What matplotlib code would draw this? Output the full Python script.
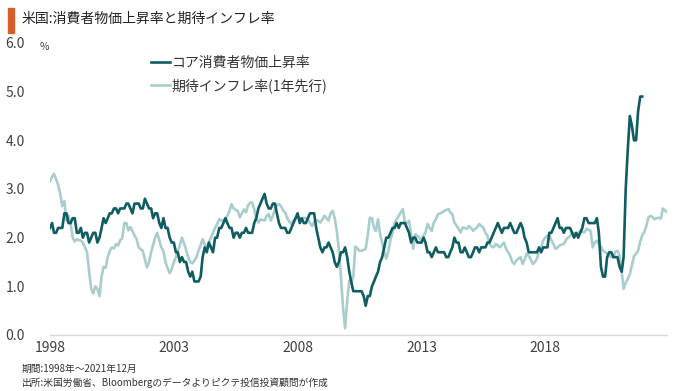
import matplotlib
matplotlib.use("Agg")
import matplotlib.pyplot as plt
import matplotlib.patches as mpatches
import pandas as pd

plt.rcParams['font.family'] = ['Noto Sans CJK JP', 'DejaVu Sans']

# コア消費者物価上昇率 (YoY %, monthly, 1998-01 .. 2021-12)
core_cpi = [
    2.2, 2.3, 2.1, 2.1, 2.2, 2.2, 2.2, 2.5, 2.5, 2.3, 2.3, 2.4,   # 1998
    2.4, 2.1, 2.1, 2.2, 2.0, 2.1, 2.1, 1.9, 2.0, 2.1, 2.1, 1.9,   # 1999
    2.0, 2.2, 2.4, 2.3, 2.4, 2.5, 2.5, 2.6, 2.6, 2.5, 2.6, 2.6,   # 2000
    2.6, 2.7, 2.7, 2.6, 2.5, 2.7, 2.7, 2.7, 2.6, 2.6, 2.8, 2.7,   # 2001
    2.6, 2.6, 2.4, 2.5, 2.5, 2.3, 2.2, 2.4, 2.2, 2.2, 2.0, 1.9,   # 2002
    1.9, 1.7, 1.7, 1.5, 1.6, 1.5, 1.5, 1.3, 1.2, 1.3, 1.1, 1.1,   # 2003
    1.1, 1.2, 1.6, 1.8, 1.7, 1.9, 1.8, 1.7, 2.0, 2.0, 2.2, 2.2,   # 2004
    2.3, 2.4, 2.3, 2.2, 2.2, 2.0, 2.1, 2.1, 2.0, 2.1, 2.1, 2.2,   # 2005
    2.1, 2.1, 2.1, 2.3, 2.4, 2.6, 2.7, 2.8, 2.9, 2.7, 2.6, 2.6,   # 2006
    2.7, 2.7, 2.5, 2.3, 2.2, 2.2, 2.2, 2.1, 2.1, 2.2, 2.3, 2.4,   # 2007
    2.5, 2.3, 2.4, 2.3, 2.3, 2.4, 2.5, 2.5, 2.5, 2.2, 2.0, 1.8,   # 2008
    1.7, 1.8, 1.8, 1.9, 1.8, 1.7, 1.5, 1.4, 1.5, 1.7, 1.7, 1.8,   # 2009
    1.6, 1.3, 1.1, 0.9, 0.9, 0.9, 0.9, 0.9, 0.8, 0.6, 0.8, 0.8,   # 2010
    1.0, 1.1, 1.2, 1.3, 1.5, 1.6, 1.8, 2.0, 2.0, 2.1, 2.2, 2.2,   # 2011
    2.3, 2.2, 2.3, 2.3, 2.3, 2.2, 2.1, 1.9, 2.0, 2.0, 1.9, 1.9,   # 2012
    1.9, 2.0, 1.9, 1.7, 1.7, 1.6, 1.7, 1.8, 1.7, 1.7, 1.7, 1.7,   # 2013
    1.6, 1.6, 1.7, 1.8, 2.0, 1.9, 1.9, 1.7, 1.7, 1.8, 1.7, 1.6,   # 2014
    1.6, 1.7, 1.8, 1.8, 1.7, 1.8, 1.8, 1.8, 1.9, 1.9, 2.0, 2.1,   # 2015
    2.2, 2.3, 2.2, 2.1, 2.2, 2.2, 2.2, 2.3, 2.2, 2.1, 2.1, 2.2,   # 2016
    2.3, 2.2, 2.0, 1.9, 1.7, 1.7, 1.7, 1.7, 1.7, 1.8, 1.7, 1.8,   # 2017
    1.8, 1.8, 2.1, 2.1, 2.2, 2.3, 2.4, 2.2, 2.2, 2.1, 2.2, 2.2,   # 2018
    2.2, 2.1, 2.0, 2.1, 2.0, 2.1, 2.2, 2.4, 2.4, 2.3, 2.3, 2.3,   # 2019
    2.3, 2.4, 2.1, 1.4, 1.2, 1.2, 1.6, 1.7, 1.7, 1.6, 1.6, 1.6,   # 2020
    1.4, 1.3, 1.6, 3.0, 3.8, 4.5, 4.3, 4.0, 4.0, 4.6, 4.9, 4.9,   # 2021
]

# 期待インフレ率（1年先行）(%, monthly, plotted 1998-01 .. 2022-12)
expected_infl = [
    3.16, 3.25, 3.31, 3.20, 3.08, 2.90, 2.65, 2.75, 2.35, 2.45, 2.30, 2.00,  # 1998
    1.92, 1.97, 1.95, 1.94, 1.90, 1.80, 1.70, 1.30, 0.95, 0.85, 1.00, 0.95,  # 1999
    0.80, 1.20, 1.40, 1.38, 1.60, 1.73, 1.80, 1.78, 1.87, 1.84, 1.95, 1.98,  # 2000
    2.30, 2.30, 2.15, 2.22, 2.13, 2.05, 1.97, 1.80, 1.76, 1.73, 1.55, 1.39,  # 2001
    1.50, 1.70, 1.85, 2.00, 2.10, 1.95, 1.80, 1.72, 1.50, 1.38, 1.27, 1.36,  # 2002
    1.50, 1.60, 1.72, 1.85, 2.00, 1.88, 1.75, 1.60, 1.50, 1.47, 1.53, 1.60,  # 2003
    1.73, 1.85, 1.97, 1.85, 1.82, 1.90, 2.00, 2.10, 2.20, 2.28, 2.38, 2.35,  # 2004
    2.36, 2.38, 2.45, 2.55, 2.69, 2.60, 2.57, 2.55, 2.42, 2.50, 2.58, 2.52,  # 2005
    2.67, 2.72, 2.72, 2.59, 2.40, 2.31, 2.38, 2.36, 2.35, 2.45, 2.48, 2.35,  # 2006
    2.45, 2.59, 2.66, 2.69, 2.65, 2.56, 2.52, 2.40, 2.33, 2.28, 2.36, 2.38,  # 2007
    2.45, 2.40, 2.38, 2.41, 2.40, 2.38, 2.30, 2.24, 2.33, 2.35, 2.35, 2.31,  # 2008
    2.38, 2.45, 2.40, 2.35, 2.50, 2.55, 2.40, 2.14, 1.75, 1.20, 0.55, 0.14,  # 2009
    0.70, 1.12, 1.08, 1.19, 1.82, 1.78, 1.73, 1.73, 1.75, 1.77, 2.05, 2.41,  # 2010
    2.40, 2.20, 2.14, 2.38, 2.07, 1.90, 1.70, 1.57, 1.73, 1.95, 2.10, 2.31,  # 2011
    2.38, 2.45, 2.52, 2.59, 2.31, 2.30, 2.35, 2.07, 1.77, 2.07, 2.04, 2.00,  # 2012
    1.94, 2.05, 2.11, 2.28, 2.20, 2.14, 2.31, 2.38, 2.48, 2.50, 2.52, 2.55,  # 2013
    2.57, 2.59, 2.52, 2.48, 2.31, 2.25, 2.18, 2.11, 2.21, 2.20, 2.18, 2.24,  # 2014
    2.20, 2.14, 2.18, 2.21, 2.28, 2.24, 2.21, 2.10, 2.04, 1.87, 1.82, 1.80,  # 2015
    1.87, 1.84, 1.80, 1.85, 1.90, 1.77, 1.70, 1.63, 1.50, 1.46, 1.53, 1.57,  # 2016
    1.60, 1.46, 1.55, 1.67, 1.63, 1.55, 1.46, 1.50, 1.57, 1.75, 1.80, 1.94,  # 2017
    2.00, 2.04, 2.04, 1.95, 1.87, 1.77, 1.80, 1.84, 1.86, 1.87, 1.95, 2.00,  # 2018
    2.03, 2.11, 2.09, 2.07, 2.10, 2.14, 2.12, 2.11, 2.18, 2.16, 2.14, 1.80,  # 2019
    1.90, 1.94, 1.87, 1.82, 1.73, 1.70, 1.68, 1.63, 1.60, 1.60, 1.72, 1.73,  # 2020
    1.63, 1.30, 0.95, 1.07, 1.15, 1.25, 1.43, 1.62, 1.67, 1.73, 1.92, 2.05,  # 2021
    2.12, 2.25, 2.41, 2.45, 2.42, 2.38, 2.40, 2.41, 2.39, 2.60, 2.56, 2.52,  # 2022
]

core_label = "コア消費者物価上昇率"
exp_label = "期待インフレ率(1年先行)"
title = "米国:消費者物価上昇率と期待インフレ率"
note1 = "期間:1998年～2021年12月"
note2 = "出所:米国労働省、Bloombergのデータよりピクテ投信投資顧問が作成"
y_ticks = [0.0, 1.0, 2.0, 3.0, 4.0, 5.0, 6.0]
x_tick_years = [1998, 2003, 2008, 2013, 2018]

core_dates = pd.date_range("1998-01-01", periods=len(core_cpi), freq="MS")
exp_dates = pd.date_range("1998-01-01", periods=len(expected_infl), freq="MS")

W, H = 680, 391
fig = plt.figure(figsize=(W / 100, H / 100), dpi=100)
ax = fig.add_axes([50 / W, (H - 335) / H, (667 - 50) / W, (335 - 43) / H])

core_color = "#0f5c62"
exp_color = "#a9cdcd"
text_color = "#404040"

ax.plot(exp_dates, expected_infl, color=exp_color, lw=1.9, label=exp_label, zorder=2)
ax.plot(core_dates, core_cpi, color=core_color, lw=1.9, label=core_label, zorder=3)

ax.set_ylim(0, 6)
ax.set_xlim(exp_dates[0], exp_dates[-1])
ax.set_yticks(y_ticks)
ax.set_yticklabels([f"{v:.1f}" for v in y_ticks])
ax.set_xticks([pd.Timestamp(f"{y}-01-01") for y in x_tick_years])
ax.set_xticklabels([str(y) for y in x_tick_years])

for s in ["left", "right", "top"]:
    ax.spines[s].set_visible(False)
ax.spines["bottom"].set_color("#d9d9d9")
ax.spines["bottom"].set_linewidth(1.0)
ax.tick_params(axis="both", length=0, colors=text_color, labelsize=10)
ax.tick_params(axis="y", pad=18)
ax.tick_params(axis="x", pad=4)

handles, labels = ax.get_legend_handles_labels()
leg = ax.legend(handles[::-1], labels[::-1], loc="upper left",
                bbox_to_anchor=(151 / W, (H - 56) / H), bbox_transform=fig.transFigure,
                frameon=False, fontsize=10, handlelength=1.35, handletextpad=0.15,
                labelspacing=0.6, borderpad=0, borderaxespad=0)
for t in leg.get_texts():
    t.set_color("#333333")

fig.text(40 / W, (H - 47) / H, "%", fontsize=7.5, color=text_color, va="center", ha="left")

fig.patches.append(mpatches.Rectangle((8 / W, (H - 33) / H), 6 / W, 25 / H,
                                      transform=fig.transFigure, color="#d3602a"))
fig.text(22 / W, (H - 19) / H, title, fontsize=10, color="#222222", va="center", ha="left")

fig.text(22 / W, (H - 369) / H, note1, fontsize=7, color="#333333", va="center", ha="left")
fig.text(22 / W, (H - 383) / H, note2, fontsize=7, color="#333333", va="center", ha="left")

fig.savefig("out.png", dpi=100)
